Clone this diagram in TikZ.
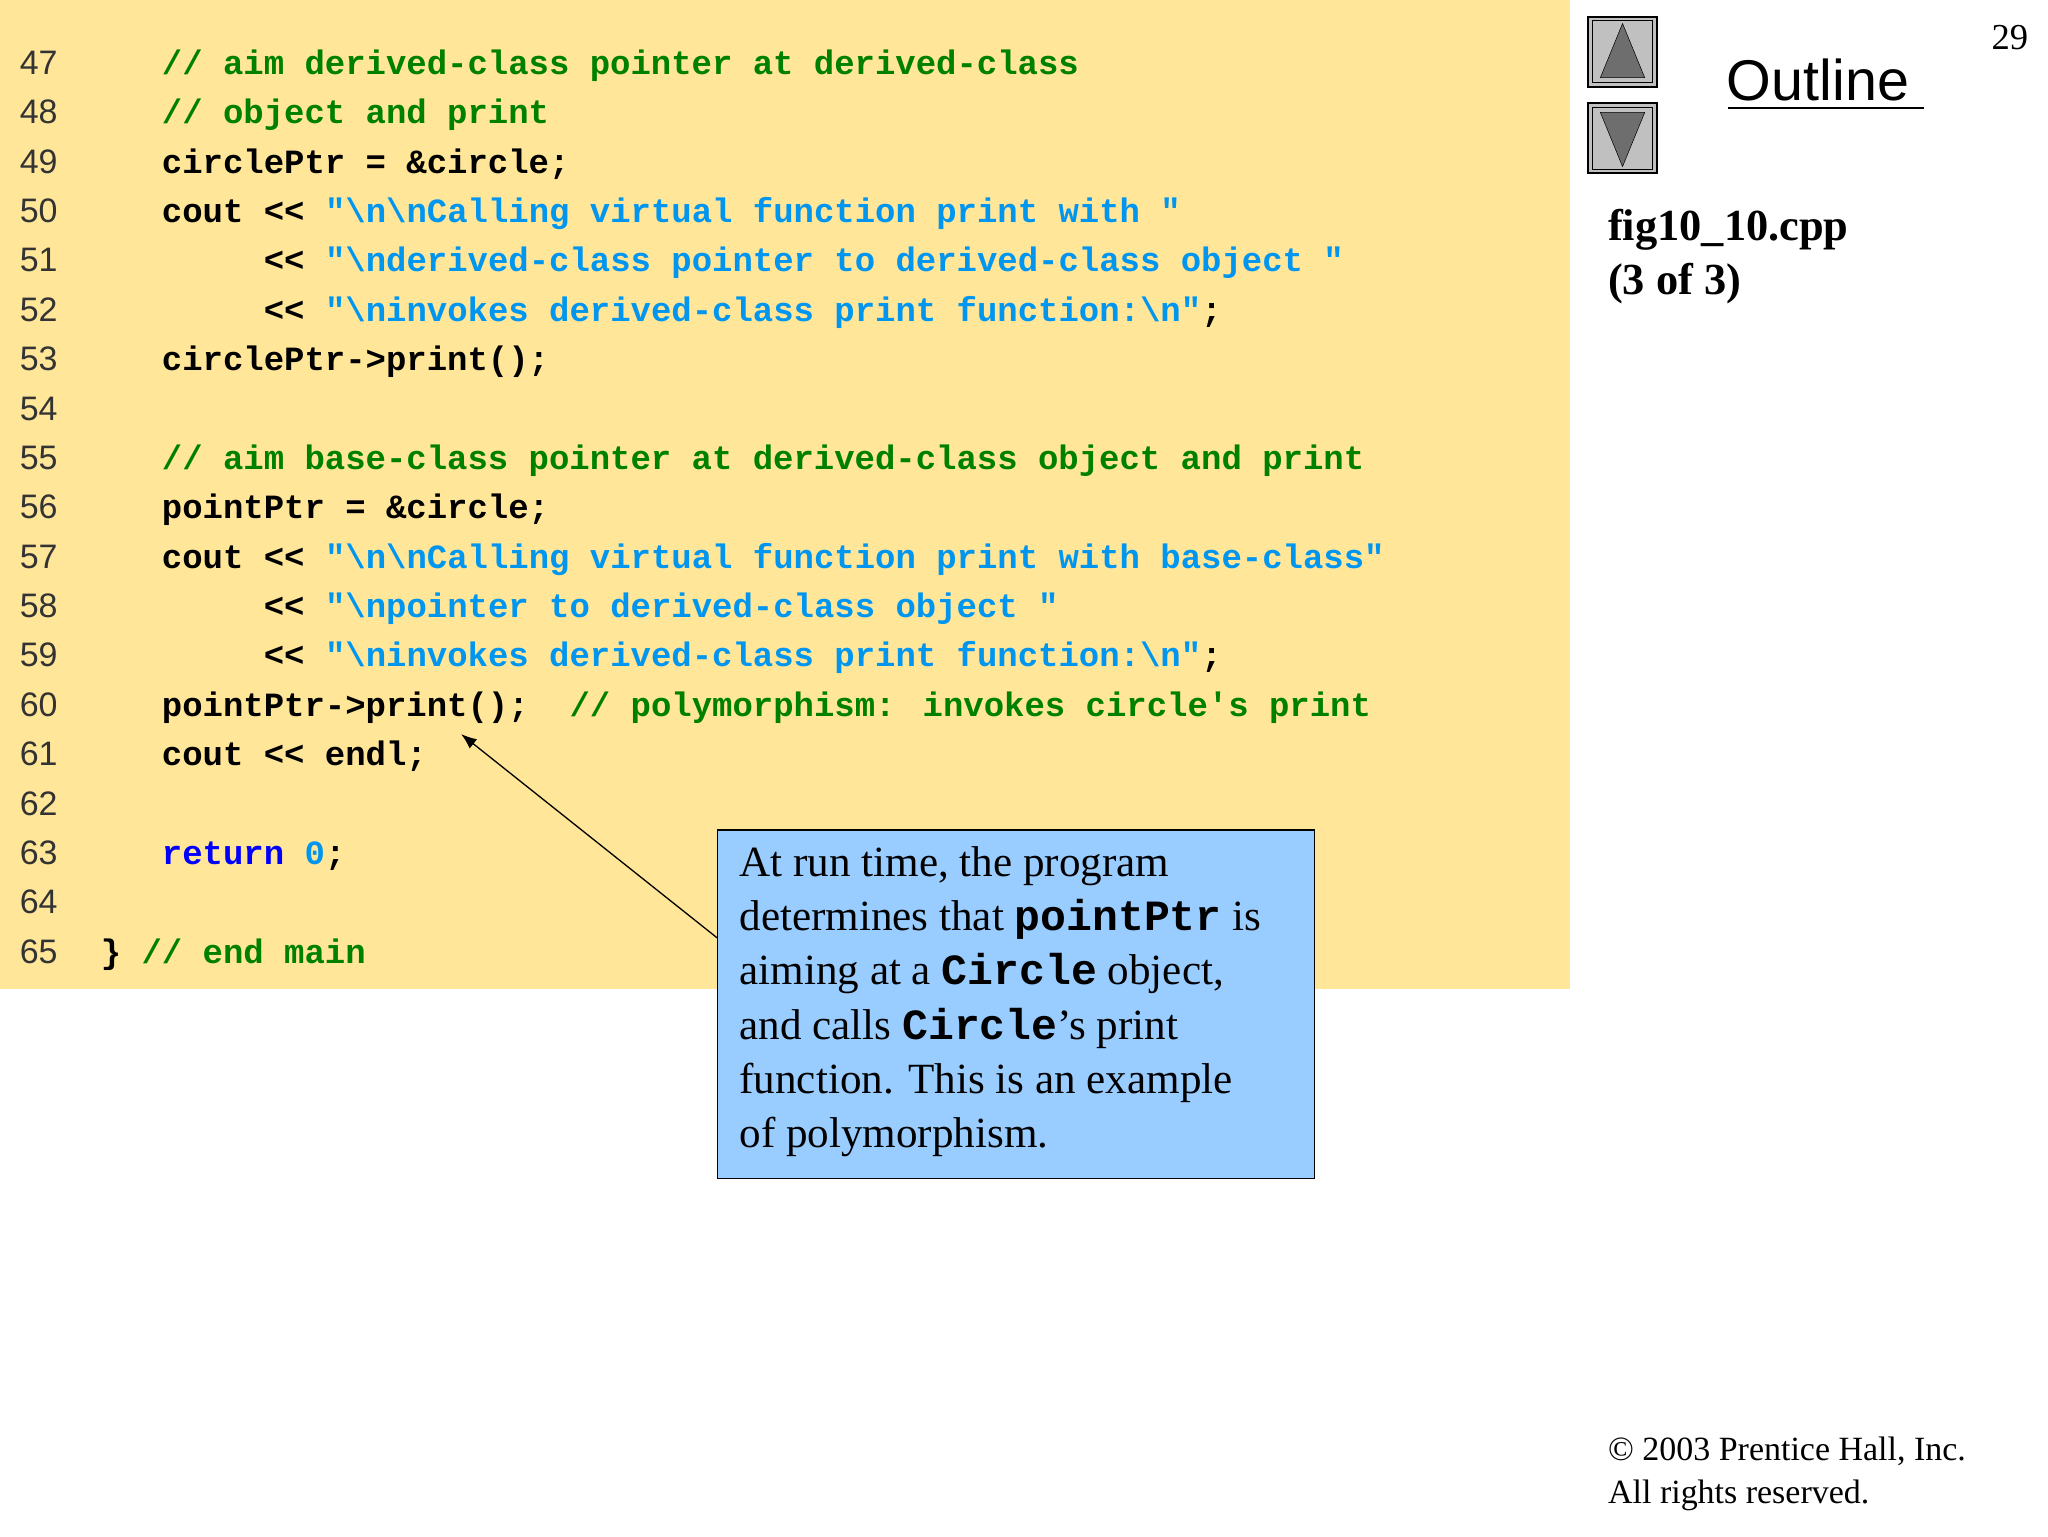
\documentclass[tikz,border=0pt]{standalone}
\usetikzlibrary{arrows.meta}
\usepackage{fontspec}
\setmainfont{Liberation Serif}
\newfontfamily\code{Liberation Mono}
\newfontfamily\sans{Liberation Sans}
\definecolor{bgy}{RGB}{255,230,153}
\definecolor{cmt}{RGB}{0,128,0}
\definecolor{str}{RGB}{0,150,240}
\definecolor{kw}{RGB}{0,0,255}
\definecolor{callout}{RGB}{153,204,255}
\definecolor{btn}{RGB}{192,192,192}
\definecolor{btnd}{RGB}{110,110,110}
\newcommand{\LL}{<\kern0pt<}
\newcommand{\bs}{\textbackslash}
\tikzset{
 codeln/.style={anchor=base west,inner sep=0pt,font=\code\bfseries\fontsize{26}{30}\selectfont},
 lnum/.style={anchor=base west,inner sep=0pt,font=\sans\fontsize{26}{30}\selectfont,text=black!80},
 btnbox/.style={draw=black,line width=1.5pt,fill=btn},
}
\begin{document}
\begin{tikzpicture}[x=1pt,y=-1pt]
\useasboundingbox (0,0) rectangle (1568,1176);
\fill[bgy] (0,0) rectangle (1202,757);
\foreach \n [count=\i from 0] in {47,...,65}{
  \node[lnum] (n\n) at (15,{57+\i*37.8}) {\n};
}
\def\Y#1{{57+(#1-47)*37.8}}
\node[codeln] (c47) at (77,\Y{47}) {\textcolor{cmt}{~~~// aim derived-class pointer at derived-class}};
\node[codeln] (c48) at (77,\Y{48}) {\textcolor{cmt}{~~~// object and print}};
\node[codeln] (c49) at (77,\Y{49}) {~~~circlePtr = \&circle;};
\node[codeln] (c50) at (77,\Y{50}) {~~~cout \LL{} \textcolor{str}{"\bs n\bs nCalling virtual function print with "}};
\node[codeln] (c51) at (77,\Y{51}) {~~~~~~~~\LL{} \textcolor{str}{"\bs nderived-class pointer to derived-class object "}};
\node[codeln] (c52) at (77,\Y{52}) {~~~~~~~~\LL{} \textcolor{str}{"\bs ninvokes derived-class print function:\bs n"};};
\node[codeln] (c53) at (77,\Y{53}) {~~~circlePtr->print();};
\node[codeln] (c55) at (77,\Y{55}) {\textcolor{cmt}{~~~// aim base-class pointer at derived-class object and print}};
\node[codeln] (c56) at (77,\Y{56}) {~~~pointPtr = \&circle;};
\node[codeln] (c57) at (77,\Y{57}) {~~~cout \LL{} \textcolor{str}{"\bs n\bs nCalling virtual function print with base-class"}};
\node[codeln] (c58) at (77,\Y{58}) {~~~~~~~~\LL{} \textcolor{str}{"\bs npointer to derived-class object "}};
\node[codeln] (c59) at (77,\Y{59}) {~~~~~~~~\LL{} \textcolor{str}{"\bs ninvokes derived-class print function:\bs n"};};
\node[codeln] (c60) at (77,\Y{60}) {~~~pointPtr->print();~~\textcolor{cmt}{// polymorphism: invokes circle\textquotesingle s print}};
\node[codeln] (c61) at (77,\Y{61}) {~~~cout \LL{} endl;};
\node[codeln] (c63) at (77,\Y{63}) {~~~\textcolor{kw}{return} \textcolor{str}{0};};
\node[codeln] (c65) at (77,\Y{65}) {\}~\textcolor{cmt}{// end main}};
\node[draw=black,line width=1pt,fill=callout,minimum width=457pt,minimum height=267pt,anchor=north west,inner sep=0pt] (box) at (549,635) {};
\node[anchor=north west,inner sep=0pt,align=left,font=\fontsize{33}{41.5}\selectfont] (boxtxt) at (566,648) {%
At run time, the program\\
determines that {\code\bfseries pointPtr} is\\
aiming at a {\code\bfseries Circle} object,\\
and calls {\code\bfseries Circle}’s print\\
function. This is an example\\
of polymorphism.};
\coordinate (tip) at (353,562);
\coordinate (tail) at (549,718);
\draw[-{Latex[length=12pt,width=9pt]},line width=1pt] (tail) -- (tip);
\node[btnbox,minimum width=53pt,minimum height=54pt,anchor=north west] (up) at (1215,12) {};
\draw[line width=0.8pt] ([shift={(4pt,-4pt)}]up.north west) rectangle ([shift={(-4pt,4pt)}]up.south east);
\fill[btnd,draw=black] ([yshift=-6pt]up.north) -- ([shift={(-17pt,8pt)}]up.south) -- ([shift={(17pt,8pt)}]up.south) -- cycle;
\node[btnbox,minimum width=53pt,minimum height=54pt,anchor=north west] (down) at (1215,78) {};
\draw[line width=0.8pt] ([shift={(4pt,-4pt)}]down.north west) rectangle ([shift={(-4pt,4pt)}]down.south east);
\fill[btnd,draw=black] ([yshift=6pt]down.south) -- ([shift={(-17pt,-8pt)}]down.north) -- ([shift={(17pt,-8pt)}]down.north) -- cycle;
\node[anchor=base west,inner sep=0pt,font=\sans\fontsize{44}{50}\selectfont] (outline) at (1322,77) {Outline};
\draw[line width=1.5pt] (1323,83) -- (1473,83);
\node[anchor=base east,inner sep=0pt,font=\fontsize{28}{32}\selectfont] (pg) at (1553,38) {29};
\node[anchor=north west,inner sep=0pt,align=left,font=\bfseries\fontsize{34}{41}\selectfont] (fig) at (1231,160) {fig10\_10.cpp\\(3 of 3)};
\node[anchor=north west,inner sep=0pt,align=left,font=\fontsize{26}{33}\selectfont] (copy) at (1231,1100) {© 2003 Prentice Hall, Inc.\\All rights reserved.};
\end{tikzpicture}
\end{document}
